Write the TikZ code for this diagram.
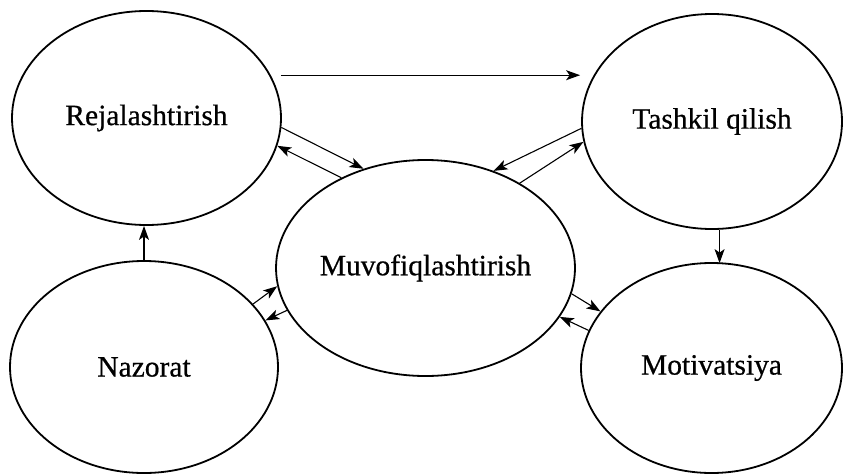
\documentclass[tikz,border=0pt]{standalone}
\usepackage{fontspec}
\setmainfont{Liberation Serif}
\newfontfamily\labfont{Liberation Serif}[FakeBold=0.6]
\usetikzlibrary{shapes.geometric,arrows.meta}
\tikzset{
  circ/.style={draw, ellipse, line width=1.8pt, inner sep=0pt,
    font=\labfont\fontsize{29.5}{32}\selectfont},
  arr/.style={-{Stealth[length=14pt,width=10pt,inset=3.5pt]}, line width=1.1pt}
}
\begin{document}
\begin{tikzpicture}[x=1pt,y=-1pt]
\useasboundingbox (0,0) rectangle (843,474);
\node[circ, minimum width=269pt, minimum height=214pt] (rej) at (146.5,118) {Rejalashtirish};
\node[circ, minimum width=260pt, minimum height=215pt] (tash) at (712,121.5) {Tashkil qilish};
\node[circ, minimum width=265pt, minimum height=216pt] (muv) at (425.5,268) {Muvofiqlashtirish};
\node[circ, minimum width=268pt, minimum height=212pt] (naz) at (144,367) {Nazorat};
\node[circ, minimum width=261pt, minimum height=210pt] (mot) at (711.5,368) {Motivatsiya};
% top horizontal
\draw[arr] ([xshift=10pt]rej.19) -- ([xshift=-1pt]rej.19 -| tash.west);
% rej <-> muv
\draw[arr] (rej.-4) -- (muv.122);
\draw[arr] (muv.133) -- (rej.-12);
% tash <-> muv
\draw[arr] (tash.183) -- (muv.55);
\draw[arr] (muv.42) -- (tash.189);
% tash -> mot
\draw[arr] (tash.-86) -- ([yshift=-1pt]tash.-86 |- mot.north);
% naz -> rej
\draw[arr] (naz.north) -- (naz.north |- rej.south);
% naz <-> muv
\draw[arr] (naz.30) -- (muv.187);
\draw[arr] (muv.197) -- (naz.21);
% muv <-> mot
\draw[arr] (muv.-10) -- (mot.153.5);
\draw[arr] (mot.163) -- (muv.-20);
\end{tikzpicture}
\end{document}
